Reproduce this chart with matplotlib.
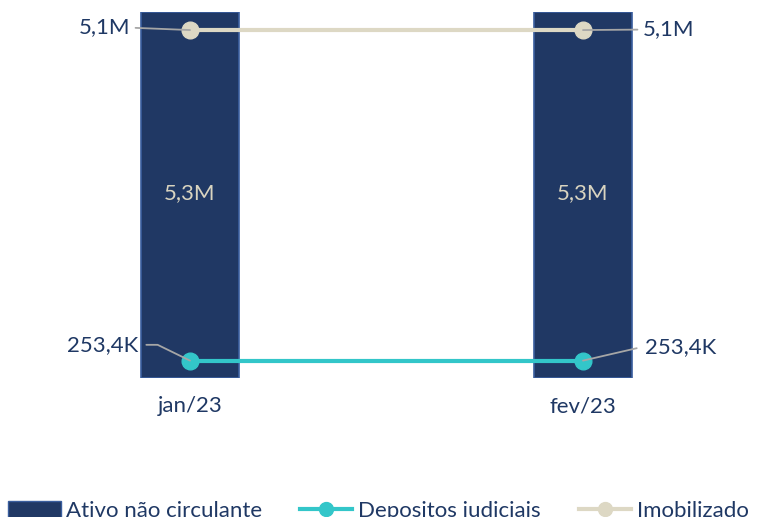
import matplotlib
matplotlib.use("Agg")
import matplotlib.pyplot as plt
from matplotlib.lines import Line2D
from matplotlib.patches import Patch

categories = ["jan/23", "fev/23"]
ativo_nao_circulante = [5.333, 5.333]      # millions
depositos_judiciais = [0.2534, 0.2534]     # millions
imobilizado = [5.07, 5.07]                 # millions
bar_labels = ["5,3M", "5,3M"]
dep_labels = ["253,4K", "253,4K"]
imo_labels = ["5,1M", "5,1M"]

NAVY = "#203864"
TEAL = "#33C6C9"
BEIGE = "#DDD8C4"
TEXT = "#1F3864"
FONT = ["Lato", "DejaVu Sans"]
plt.rcParams["font.family"] = FONT
FS = 16

W, H = 757, 517
fig = plt.figure(figsize=(W / 100, H / 100), dpi=100)
ax = fig.add_axes([0, (H - 378) / H, 1, 366 / H])
x = list(range(len(categories)))
span = 583 - 190
ax.set_xlim(-190 / span, 1 + (W - 583) / span)
ax.set_ylim(0, 5.333)

ax.bar(x, ativo_nao_circulante, width=99 / span, color=NAVY,
       edgecolor="#3A5E9E", linewidth=1.2, zorder=1)
ax.plot(x, depositos_judiciais, color=TEAL, lw=3, marker="o", ms=12,
        zorder=3, solid_capstyle="butt")
ax.plot(x, imobilizado, color=BEIGE, lw=3, marker="o", ms=12,
        zorder=3, solid_capstyle="butt")

for xi, v, lab in zip(x, ativo_nao_circulante, bar_labels):
    ax.text(xi, v / 2 * 1.01, lab, ha="center", va="center",
            color="#D9D4C0", fontsize=FS)

px = 1 / span
lc = "#A6A6A6"
# Imobilizado
ax.annotate(imo_labels[0], xy=(x[0], imobilizado[0]),
            xytext=(x[0] - 60 * px, imobilizado[0] + 0.05), ha="right", va="center",
            color=TEXT, fontsize=FS,
            arrowprops=dict(arrowstyle="-", color=lc, lw=1.3, shrinkA=2, shrinkB=0))
ax.annotate(imo_labels[1], xy=(x[1], imobilizado[1]),
            xytext=(x[1] + 60 * px, imobilizado[1] + 0.01), ha="left", va="center",
            color=TEXT, fontsize=FS,
            arrowprops=dict(arrowstyle="-", color=lc, lw=1.3, shrinkA=2, shrinkB=0))
# Depositos
ax.annotate(dep_labels[0], xy=(x[0], depositos_judiciais[0]),
            xytext=(x[0] - 52 * px, depositos_judiciais[0] + 0.23), ha="right", va="center",
            color=TEXT, fontsize=FS,
            arrowprops=dict(arrowstyle="-", color=lc, lw=1.3, shrinkA=4, shrinkB=0,
                            connectionstyle="angle,angleA=0,angleB=154,rad=0"))
ax.annotate(dep_labels[1], xy=(x[1], depositos_judiciais[1]),
            xytext=(x[1] + 62 * px, depositos_judiciais[1] + 0.19), ha="left", va="center",
            color=TEXT, fontsize=FS,
            arrowprops=dict(arrowstyle="-", color=lc, lw=1.3, shrinkA=4, shrinkB=0,
                            connectionstyle="angle,angleA=0,angleB=13,rad=0"))

ax.set_xticks(x)
ax.set_xticklabels(categories, color=TEXT, fontsize=FS)
ax.tick_params(axis="x", length=0, pad=13)
ax.set_yticks([])
for s in ax.spines.values():
    s.set_visible(False)
ax.patch.set_alpha(0)

handles = [
    Patch(facecolor=NAVY, edgecolor="#3A5E9E"),
    Line2D([], [], color=TEAL, lw=3, marker="o", ms=10),
    Line2D([], [], color=BEIGE, lw=3, marker="o", ms=10),
]
fig.legend(handles, ["Ativo não circulante", "Depositos judiciais", "Imobilizado"],
           loc="lower left", bbox_to_anchor=(0.011, -0.008), ncol=3, frameon=False,
           fontsize=FS, labelcolor=TEXT, handlelength=2.35, handleheight=0.75,
           handletextpad=0.26, columnspacing=1.7, borderaxespad=0, borderpad=0)

fig.savefig("out.png", dpi=100)
